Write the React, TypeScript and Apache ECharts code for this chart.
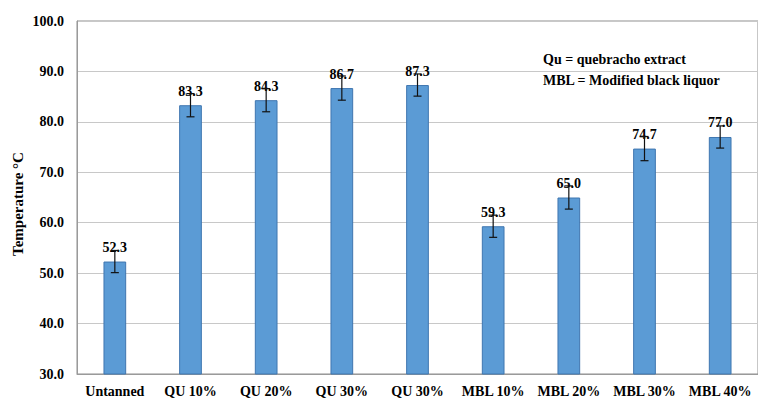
import React, { useEffect, useRef } from "react";
import * as echarts from "echarts";

// Shrinkage temperature per tanning treatment
const categories = [
  "Untanned",
  "QU 10%",
  "QU 20%",
  "QU 30%",
  "QU 30%",
  "MBL 10%",
  "MBL 20%",
  "MBL 30%",
  "MBL 40%",
];
const temperatures = [52.3, 83.3, 84.3, 86.7, 87.3, 59.3, 65.0, 74.7, 77.0];
// Standard deviation shown as error bars
const deviations = [2.2, 2.3, 2.3, 2.4, 2.2, 2.2, 2.3, 2.4, 2.2];
const yTicks = { min: 30, max: 100, interval: 10 };
const notes = ["Qu = quebracho extract", "MBL = Modified black liquor"];
const yTitle = "Temperature °C";

const FONT = "'Liberation Serif', 'Times New Roman', serif";

export default function App() {
  const ref = useRef<HTMLDivElement>(null);

  useEffect(() => {
    if (!ref.current) return;
    const chart = echarts.init(ref.current, undefined, { renderer: "svg" });

    const errorData = temperatures.map((v, i) => [i, v - deviations[i], v + deviations[i]]);

    chart.setOption({
      animation: false,
      backgroundColor: "#ffffff",
      grid: {
        left: 77,
        top: 21,
        width: 684,
        height: 353,
        show: true,
        borderColor: "#8f8f8f",
        borderWidth: 1,
      },
      xAxis: {
        type: "category",
        data: categories,
        axisTick: { show: false },
        axisLine: { lineStyle: { color: "#9a9a9a", width: 1 } },
        axisLabel: {
          margin: 10,
          fontFamily: FONT,
          fontWeight: "bold",
          fontSize: 14,
          color: "#000",
          interval: 0,
        },
      },
      yAxis: {
        type: "value",
        min: yTicks.min,
        max: yTicks.max,
        interval: yTicks.interval,
        axisLine: { show: true, lineStyle: { color: "#9a9a9a", width: 1 } },
        axisTick: { show: false },
        splitLine: { lineStyle: { color: "#c8c8c8", width: 1 } },
        axisLabel: {
          margin: 13,
          fontFamily: FONT,
          fontWeight: "bold",
          fontSize: 14,
          color: "#000",
          formatter: (v: number) => v.toFixed(1),
        },
      },
      series: [
        {
          type: "bar",
          data: temperatures,
          barWidth: "30%",
          itemStyle: { color: "#5b9bd5", borderColor: "#3f76b0", borderWidth: 1 },
          label: {
            show: true,
            position: "top",
            distance: 7,
            fontFamily: FONT,
            fontWeight: "bold",
            fontSize: 14,
            color: "#000",
            formatter: (p: any) => Number(p.value).toFixed(1),
          },
          z: 2,
        },
        {
          type: "custom",
          data: errorData,
          z: 5,
          renderItem: (_params: any, api: any) => {
            const i = api.value(0);
            const lo = api.coord([i, api.value(1)]);
            const hi = api.coord([i, api.value(2)]);
            const half = 4;
            const style = { stroke: "#111", lineWidth: 1.2 };
            return {
              type: "group",
              children: [
                { type: "line", shape: { x1: lo[0], y1: lo[1], x2: hi[0], y2: hi[1] }, style },
                { type: "line", shape: { x1: lo[0] - half, y1: lo[1], x2: lo[0] + half, y2: lo[1] }, style },
                { type: "line", shape: { x1: hi[0] - half, y1: hi[1], x2: hi[0] + half, y2: hi[1] }, style },
              ],
            };
          },
        },
      ],
      graphic: [
        {
          type: "text",
          x: 18,
          y: 204,
          rotation: Math.PI / 2,
          style: {
            text: yTitle,
            fontFamily: FONT,
            fontWeight: "bold",
            fontSize: 15,
            fill: "#000",
            align: "center",
            verticalAlign: "middle",
          },
        },
        ...notes.map((t, k) => ({
          type: "text",
          x: 543,
          y: 59 + k * 21,
          style: {
            text: t,
            fontFamily: FONT,
            fontWeight: "bold",
            fontSize: 14,
            fill: "#000",
            align: "left",
            verticalAlign: "middle",
          },
        })),
      ],
    });

    return () => chart.dispose();
  }, []);

  return (
    <div
      ref={ref}
      style={{ position: "fixed", left: 0, top: 0, width: 758, height: 399 }}
    />
  );
}
